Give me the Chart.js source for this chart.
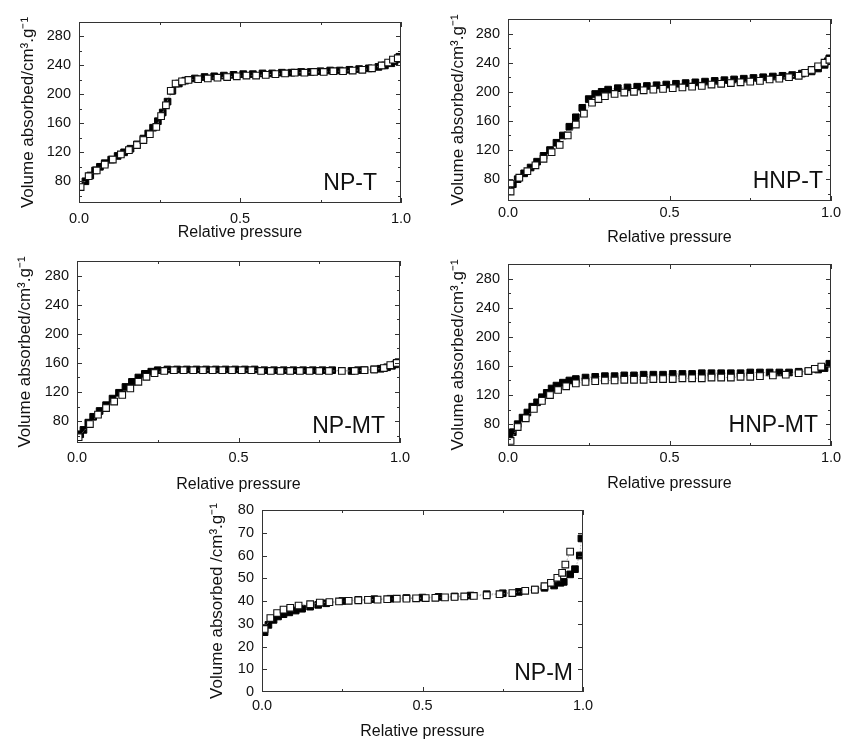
<!DOCTYPE html>
<html><head><meta charset="utf-8">
<script src="https://cdn.jsdelivr.net/npm/chart.js@4/dist/chart.umd.min.js"></script>
<style>
html,body{margin:0;padding:0;background:#fff;overflow:hidden;width:843px;height:741px;position:relative}
canvas{position:absolute}
</style></head><body>
<canvas id="c1"></canvas><canvas id="c2"></canvas><canvas id="c3"></canvas><canvas id="c4"></canvas><canvas id="c5"></canvas>
<script>
// ---------- tick labels ----------
const xTicks = [0, 0.5, 1];
const xMinorTicks = [0.25, 0.75];
const yTicksHigh = [80, 120, 160, 200, 240, 280];
const yMinorHigh = [60, 100, 140, 180, 220, 260, 300];
const yTicksLow = [0, 10, 20, 30, 40, 50, 60, 70, 80];
const yMinorLow = [];

// ---------- NP-T ----------
const npT_ads_x = [0.02,0.035,0.05,0.065,0.08,0.1,0.12,0.14,0.16,0.18,0.2,0.215,0.23,0.245,0.26,0.275,0.29,0.31,0.33,0.36,0.39,0.42,0.45,0.48,0.51,0.54,0.57,0.6,0.63,0.66,0.69,0.72,0.75,0.78,0.81,0.84,0.87,0.9,0.93,0.95,0.97,0.98,0.99,0.995];
const npT_ads_y = [80,88,95,100,105,110,115,120,125,131,139,146,154,163,175,190,205,215,219,222,224,225,226,227,228,228,229,229,230,230,231,231,232,233,233,234,235,236,238,240,243,246,249,252];
const npT_des_x = [0.005,0.03,0.055,0.08,0.105,0.13,0.155,0.18,0.2,0.22,0.24,0.255,0.27,0.285,0.3,0.32,0.34,0.37,0.4,0.43,0.46,0.49,0.52,0.55,0.58,0.61,0.64,0.67,0.7,0.73,0.76,0.79,0.82,0.85,0.88,0.91,0.94,0.96,0.975,0.99];
const npT_des_y = [72,87,95,103,110,117,123,130,137,145,155,170,185,205,215,218,220,221,222,223,224,225,226,226,227,228,229,230,230,231,231,232,232,233,234,236,240,244,248,250];

// ---------- HNP-T ----------
const hnpT_ads_x = [0.005,0.015,0.03,0.05,0.07,0.09,0.11,0.13,0.15,0.17,0.19,0.21,0.23,0.25,0.27,0.29,0.31,0.34,0.37,0.4,0.43,0.46,0.49,0.52,0.55,0.58,0.61,0.64,0.67,0.7,0.73,0.76,0.79,0.82,0.85,0.88,0.91,0.94,0.96,0.98,0.99,0.995];
const hnpT_ads_y = [66,73,80,88,96,104,112,120,130,140,152,165,178,190,197,200,203,205,206,207,208,209,210,211,212,213,214,215,216,217,218,219,220,221,222,223,225,228,232,237,242,246];
const hnpT_des_x = [0.008,0.008,0.035,0.06,0.085,0.11,0.135,0.16,0.185,0.21,0.235,0.26,0.28,0.3,0.33,0.36,0.39,0.42,0.45,0.48,0.51,0.54,0.57,0.6,0.63,0.66,0.69,0.72,0.75,0.78,0.81,0.84,0.87,0.9,0.92,0.94,0.96,0.98,0.995];
const hnpT_des_y = [63,74,82,91,99,108,117,127,140,155,170,185,190,194,197,199,200,202,203,204,205,206,207,208,210,211,212,213,214,215,217,218,220,222,226,230,235,240,244];

// ---------- NP-MT ----------
const npMT_ads_x = [0.01,0.02,0.035,0.05,0.07,0.09,0.11,0.13,0.15,0.17,0.19,0.21,0.23,0.25,0.28,0.31,0.34,0.37,0.4,0.43,0.46,0.49,0.52,0.55,0.58,0.61,0.64,0.67,0.7,0.73,0.76,0.79,0.85,0.87,0.89,0.92,0.94,0.96,0.975,0.985,0.995];
const npMT_ads_y = [62,68,78,86,94,102,111,119,127,134,140,145,148,150,151,151,151,151,151,151,151,151,151,151,150,150,150,150,150,150,150,150,149,150,150,151,152,154,156,158,161];
const npMT_des_x = [0.005,0.04,0.065,0.09,0.115,0.14,0.165,0.19,0.215,0.24,0.27,0.3,0.33,0.36,0.39,0.42,0.45,0.48,0.51,0.54,0.57,0.6,0.63,0.66,0.69,0.72,0.75,0.78,0.82,0.86,0.89,0.92,0.95,0.97,0.99];
const npMT_des_y = [58,76,89,98,107,116,125,134,141,146,149,150,150,150,150,150,150,150,150,150,149,149,149,149,149,149,149,149,149,149,150,151,153,157,160];

// ---------- HNP-MT ----------
const hnpMT_ads_x = [0.005,0.015,0.03,0.045,0.06,0.075,0.09,0.105,0.12,0.135,0.15,0.17,0.19,0.21,0.24,0.27,0.3,0.33,0.36,0.39,0.42,0.45,0.48,0.51,0.54,0.57,0.6,0.63,0.66,0.69,0.72,0.75,0.78,0.81,0.84,0.87,0.9,0.93,0.96,0.98,0.995];
const hnpMT_ads_y = [62,69,80,89,96,104,110,117,123,129,133,137,140,142,144,145,146,146,147,147,148,148,148,149,149,149,150,150,150,150,150,151,151,151,151,151,152,153,155,157,163];
const hnpMT_des_x = [0.008,0.03,0.055,0.08,0.105,0.13,0.155,0.18,0.21,0.24,0.27,0.3,0.33,0.36,0.39,0.42,0.45,0.48,0.51,0.54,0.57,0.6,0.63,0.66,0.69,0.72,0.75,0.78,0.82,0.86,0.9,0.93,0.95,0.97];
const hnpMT_des_y = [57,76,88,101,112,120,127,132,136,138,139,140,140,141,141,141,142,142,142,143,143,143,144,144,144,145,145,146,147,148,150,153,156,159];

// ---------- NP-M ----------
const npM_ads_x = [0.008,0.02,0.036,0.05,0.067,0.085,0.105,0.125,0.15,0.175,0.2,0.25,0.3,0.35,0.4,0.45,0.5,0.55,0.6,0.65,0.7,0.75,0.8,0.85,0.88,0.91,0.93,0.94,0.96,0.975,0.99,0.995];
const npM_ads_y = [26.3,29.5,31.7,33.2,34.2,35,35.8,36.6,37.5,38.3,39,40,40.5,40.8,41,41.3,41.5,41.8,42,42.4,43,43.4,44,45,45.8,46.8,48,48.4,51.7,54,60,67.5];
const npM_des_x = [0.008,0.026,0.047,0.067,0.088,0.114,0.15,0.18,0.21,0.24,0.27,0.3,0.33,0.36,0.39,0.42,0.45,0.48,0.51,0.54,0.57,0.6,0.63,0.66,0.7,0.74,0.78,0.82,0.85,0.88,0.9,0.92,0.935,0.945,0.96];
const npM_des_y = [27.7,32.5,34.7,36.2,37,38,38.6,39.3,39.5,39.8,40.1,40.3,40.5,40.6,40.8,41,41,41.2,41.3,41.4,41.6,41.8,42,42.2,42.5,43,43.5,44.5,45,46.5,48,50.2,52.4,56,61.7];

function pts(xs, ys) { return xs.map((x, i) => ({x: x, y: ys[i]})); }

const FONT = "'Liberation Sans', Arial, sans-serif";

const frameTicks = {
  id: 'frameTicks',
  afterDatasetsDraw(chart, args, o) {
    const ctx = chart.ctx, a = chart.chartArea;
    const xs = chart.scales.x, ys = chart.scales.y;
    ctx.save();
    ctx.strokeStyle = '#333';
    ctx.lineWidth = 1;
    ctx.beginPath();
    const tk = (vals, len, horiz) => {
      vals.forEach(v => {
        if (horiz) {
          const p = Math.round(xs.getPixelForValue(v)) + 0.5;
          ctx.moveTo(p, a.bottom); ctx.lineTo(p, a.bottom - len);
          ctx.moveTo(p, a.top); ctx.lineTo(p, a.top + len);
        } else {
          const p = Math.round(ys.getPixelForValue(v)) + 0.5;
          if (p < a.top || p > a.bottom) return;
          ctx.moveTo(a.left, p); ctx.lineTo(a.left + len, p);
          ctx.moveTo(a.right, p); ctx.lineTo(a.right - len, p);
        }
      });
    };
    tk(o.xMajor, 5, true); tk(o.xMinor, 3, true);
    tk(o.yMajor, 5, false); tk(o.yMinor, 3, false);
    ctx.stroke();
    ctx.strokeRect(Math.round(a.left) + 0.5, Math.round(a.top) + 0.5, Math.round(a.right - a.left) - 1, Math.round(a.bottom - a.top) - 1);
    // panel label
    ctx.fillStyle = '#111';
    ctx.font = '23px ' + FONT;
    ctx.textAlign = 'right';
    ctx.textBaseline = 'alphabetic';
    ctx.fillText(o.label, a.right - o.labelRight, a.bottom - o.labelBottom);
    ctx.restore();
  }
};

function makePanel(id, g, ads, des, yMin, yMax, yMaj, yMin2, yTitle, label, lbR, lbB, tickPad) {
  const cLeft = g.L - 80, cTop = g.T - 10;
  const cW = g.R + 14 - cLeft;
  const cH = g.xTitleY + 11 - cTop;
  const cv = document.getElementById(id);
  cv.style.left = cLeft + 'px'; cv.style.top = cTop + 'px';
  cv.style.width = cW + 'px'; cv.style.height = cH + 'px';
  cv.width = cW; cv.height = cH;
  const xtFont = 16, ytFont = 17;
  const xlh = xtFont * 1.2, ylh = ytFont * 1.2;
  const padLeft = g.yTitleX - cLeft - ylh / 2;
  const yW = g.L - cLeft - padLeft;
  const xH = g.xTitleY - g.B + xlh / 2;
  const padBottom = cH - (g.B - cTop) - xH;
  new Chart(cv, {
    type: 'scatter',
    data: {
      datasets: [
        { data: des, pointStyle: 'rect', pointRadius: 4.7, pointBorderWidth: 1.1,
          pointBackgroundColor: '#fff', pointBorderColor: '#111', showLine: true,
          borderColor: '#999', borderWidth: 0.8, borderDash: [1.5, 1.5], order: 0 },
        { data: ads, pointStyle: 'rect', pointRadius: 4.7, pointBorderWidth: 1,
          pointBackgroundColor: '#000', pointBorderColor: '#000', showLine: true,
          borderColor: '#999', borderWidth: 0.8, borderDash: [1.5, 1.5], order: 1 }
      ]
    },
    options: {
      responsive: false, animation: false, devicePixelRatio: 1,
      layout: { padding: { left: padLeft, top: 10, right: 14, bottom: padBottom } },
      plugins: { legend: { display: false }, tooltip: { enabled: false },
        frameTicks: { xMajor: xTicks, xMinor: xMinorTicks, yMajor: yMaj, yMinor: yMin2, label: label, labelRight: lbR, labelBottom: lbB } },
      scales: {
        x: { type: 'linear', min: 0, max: 1,
          grid: { display: false, drawTicks: false }, border: { display: false },
          afterBuildTicks: s => { s.ticks = xTicks.map(v => ({value: v})); },
          afterFit: s => { s.height = xH; s.paddingLeft = 0; s.paddingRight = 0; },
          ticks: { padding: tickPad, color: '#111', font: { family: FONT, size: 14.5 }, maxRotation: 0, callback: v => v.toFixed(1) },
          title: { display: true, text: 'Relative pressure', color: '#111', padding: 0, font: { family: FONT, size: xtFont } } },
        y: { type: 'linear', min: yMin, max: yMax,
          grid: { display: false, drawTicks: false }, border: { display: false },
          afterBuildTicks: s => { s.ticks = yMaj.map(v => ({value: v})); },
          afterFit: s => { s.width = yW; s.paddingTop = 0; s.paddingBottom = 0; },
          ticks: { padding: 8, color: '#111', font: { family: FONT, size: 14.5 }, callback: v => String(v) },
          title: { display: true, text: yTitle, color: '#111', padding: 0, font: { family: FONT, size: ytFont } } }
      }
    },
    plugins: [frameTicks]
  });
}

const yTitleA = 'Volume absorbed/cm³.g⁻¹';
const yTitleB = 'Volume absorbed /cm³.g⁻¹';

makePanel('c1', {L:79, T:22, R:401, B:203, yTitleX:28, xTitleY:233}, pts(npT_ads_x, npT_ads_y), pts(npT_des_x, npT_des_y), 50, 300, yTicksHigh, yMinorHigh, yTitleA, 'NP-T', 24, 13, 7);
makePanel('c2', {L:508, T:19, R:831, B:201, yTitleX:458, xTitleY:238}, pts(hnpT_ads_x, hnpT_ads_y), pts(hnpT_des_x, hnpT_des_y), 50, 300, yTicksHigh, yMinorHigh, yTitleA, 'HNP-T', 8, 13, 3);
makePanel('c3', {L:77, T:261, R:400, B:443, yTitleX:25, xTitleY:485}, pts(npMT_ads_x, npMT_ads_y), pts(npMT_des_x, npMT_des_y), 50, 300, yTicksHigh, yMinorHigh, yTitleA, 'NP-MT', 15, 10, 6);
makePanel('c4', {L:508, T:264, R:831, B:446, yTitleX:458, xTitleY:484}, pts(hnpMT_ads_x, hnpMT_ads_y), pts(hnpMT_des_x, hnpMT_des_y), 50, 300, yTicksHigh, yMinorHigh, yTitleA, 'HNP-MT', 13, 14, 3);
makePanel('c5', {L:262, T:510, R:583, B:692, yTitleX:217, xTitleY:732}, pts(npM_ads_x, npM_ads_y), pts(npM_des_x, npM_des_y), 0, 80, yTicksLow, yMinorLow, yTitleB, 'NP-M', 10, 12, 5);
</script>
</body></html>
